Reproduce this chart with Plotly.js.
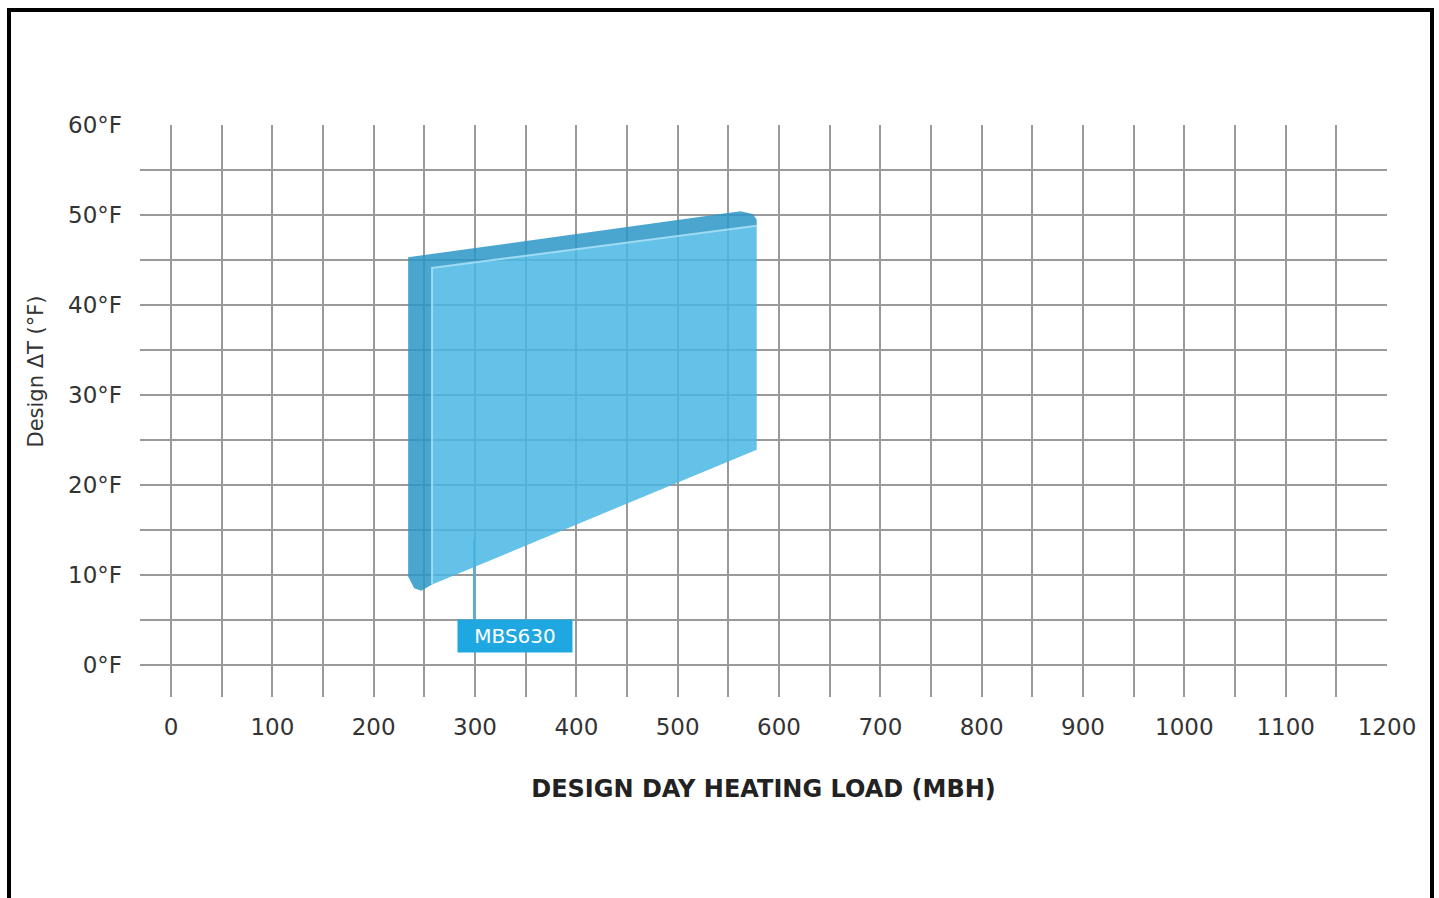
<!DOCTYPE html>
<html>
<head>
<meta charset="utf-8">
<script src="https://cdn.plot.ly/plotly-3.0.1.min.js"></script>
<style>
  html, body { margin: 0; padding: 0; background: #ffffff; overflow: hidden; }
  #chart { position: absolute; left: 0; top: 0; width: 1439px; height: 898px; }
  #frame { position: absolute; left: 7px; top: 8px; width: 1427px; height: 1000px;
           box-sizing: border-box; border: 4px solid #000; pointer-events: none; z-index: 10; }
</style>
</head>
<body>
<div id="chart"></div>
<div id="frame"></div>
<script>
// ---- data ----
const xTickVals = [0,50,100,150,200,250,300,350,400,450,500,550,600,650,700,750,800,850,900,950,1000,1050,1100,1150,1200];
const xTickText = ['0','','100','','200','','300','','400','','500','','600','','700','','800','','900','','1000','','1100','','1200'];
const yTickVals = [0,5,10,15,20,25,30,35,40,45,50,55,60];
const yTickText = ['0°F','','10°F','','20°F','','30°F','','40°F','','50°F','','60°F'];

const seriesName = 'MBS630';
// operating envelope, front face (MBH, °F)
const faceX = [257.6, 578, 578, 257.6];
const faceY = [44.1, 48.8, 23.9, 8.9];
// 3D side strip (left edge and top edge)
const sideX = [234, 562, 574, 578, 578, 257.6, 257.6, 247, 240, 234];
const sideY = [45.3, 50.4, 50.1, 49.5, 48.8, 44.1, 8.9, 8.2, 8.5, 9.8];
// highlight edge
const edgeX = [257.6, 257.6, 578];
const edgeY = [8.9, 44.1, 48.8];
// label leader line and label position
const leaderX = [299, 299];
const leaderY = [13.9, 4.8];
const labelX = 339.5;
const labelY = 3.2;

const xTitle = 'DESIGN DAY HEATING LOAD (MBH)';
const yTitle = 'Design ΔT (°F)';

// ---- traces ----
const traces = [
  { x: sideX, y: sideY, type: 'scatter', mode: 'lines', fill: 'toself',
    fillcolor: 'rgba(42,150,199,0.85)', line: { width: 0, color: 'rgba(0,0,0,0)' },
    hoverinfo: 'skip', showlegend: false },
  { x: faceX, y: faceY, type: 'scatter', mode: 'lines', fill: 'toself',
    fillcolor: 'rgba(73,182,227,0.85)', line: { width: 0, color: 'rgba(0,0,0,0)' },
    name: seriesName, showlegend: false },
  { x: edgeX, y: edgeY, type: 'scatter', mode: 'lines',
    line: { width: 2, color: 'rgba(165,222,245,0.9)' }, hoverinfo: 'skip', showlegend: false },
  { x: leaderX, y: leaderY, type: 'scatter', mode: 'lines',
    line: { width: 2, color: '#45b6e3' }, hoverinfo: 'skip', showlegend: false }
];

const tickFont = { family: 'DejaVu Sans, sans-serif', size: 23, color: '#333333' };

const layout = {
  width: 1439, height: 898, autosize: false,
  margin: { l: 140, r: 52, t: 125, b: 201, pad: 0 },
  paper_bgcolor: 'rgba(0,0,0,0)', plot_bgcolor: '#ffffff',
  showlegend: false,
  xaxis: {
    range: [-30.6, 1200], tickmode: 'array', tickvals: xTickVals, ticktext: xTickText,
    showgrid: true, gridcolor: '#9a9a9a', gridwidth: 2, zeroline: false, showline: false,
    ticks: '', ticklabelstandoff: 14, tickfont: tickFont, fixedrange: true,
    title: { text: xTitle, standoff: 41,
             font: { family: 'DejaVu Sans, sans-serif', size: 24, weight: 'bold', color: '#222222' } }
  },
  yaxis: {
    range: [-3.6, 60], tickmode: 'array', tickvals: yTickVals, ticktext: yTickText,
    showgrid: true, gridcolor: '#9a9a9a', gridwidth: 2, zeroline: false, showline: false,
    ticks: '', ticklabelstandoff: 17, tickfont: tickFont, fixedrange: true
  },
  annotations: [
    { x: labelX, y: labelY, xref: 'x', yref: 'y', text: seriesName, showarrow: false,
      bgcolor: '#1ea7e1', width: 112, height: 30, borderpad: 1,
      font: { family: 'DejaVu Sans, sans-serif', size: 20, color: '#ffffff' } },
    { x: -0.083, y: 0.5, xref: 'paper', yref: 'paper', text: yTitle, showarrow: false,
      textangle: -90, xanchor: 'center', yanchor: 'middle',
      yshift: (411 - 371),
      font: { family: 'DejaVu Sans, sans-serif', size: 21, color: '#333333' } }
  ]
};

Plotly.newPlot('chart', traces, layout, { displayModeBar: false, staticPlot: true });
</script>
</body>
</html>
